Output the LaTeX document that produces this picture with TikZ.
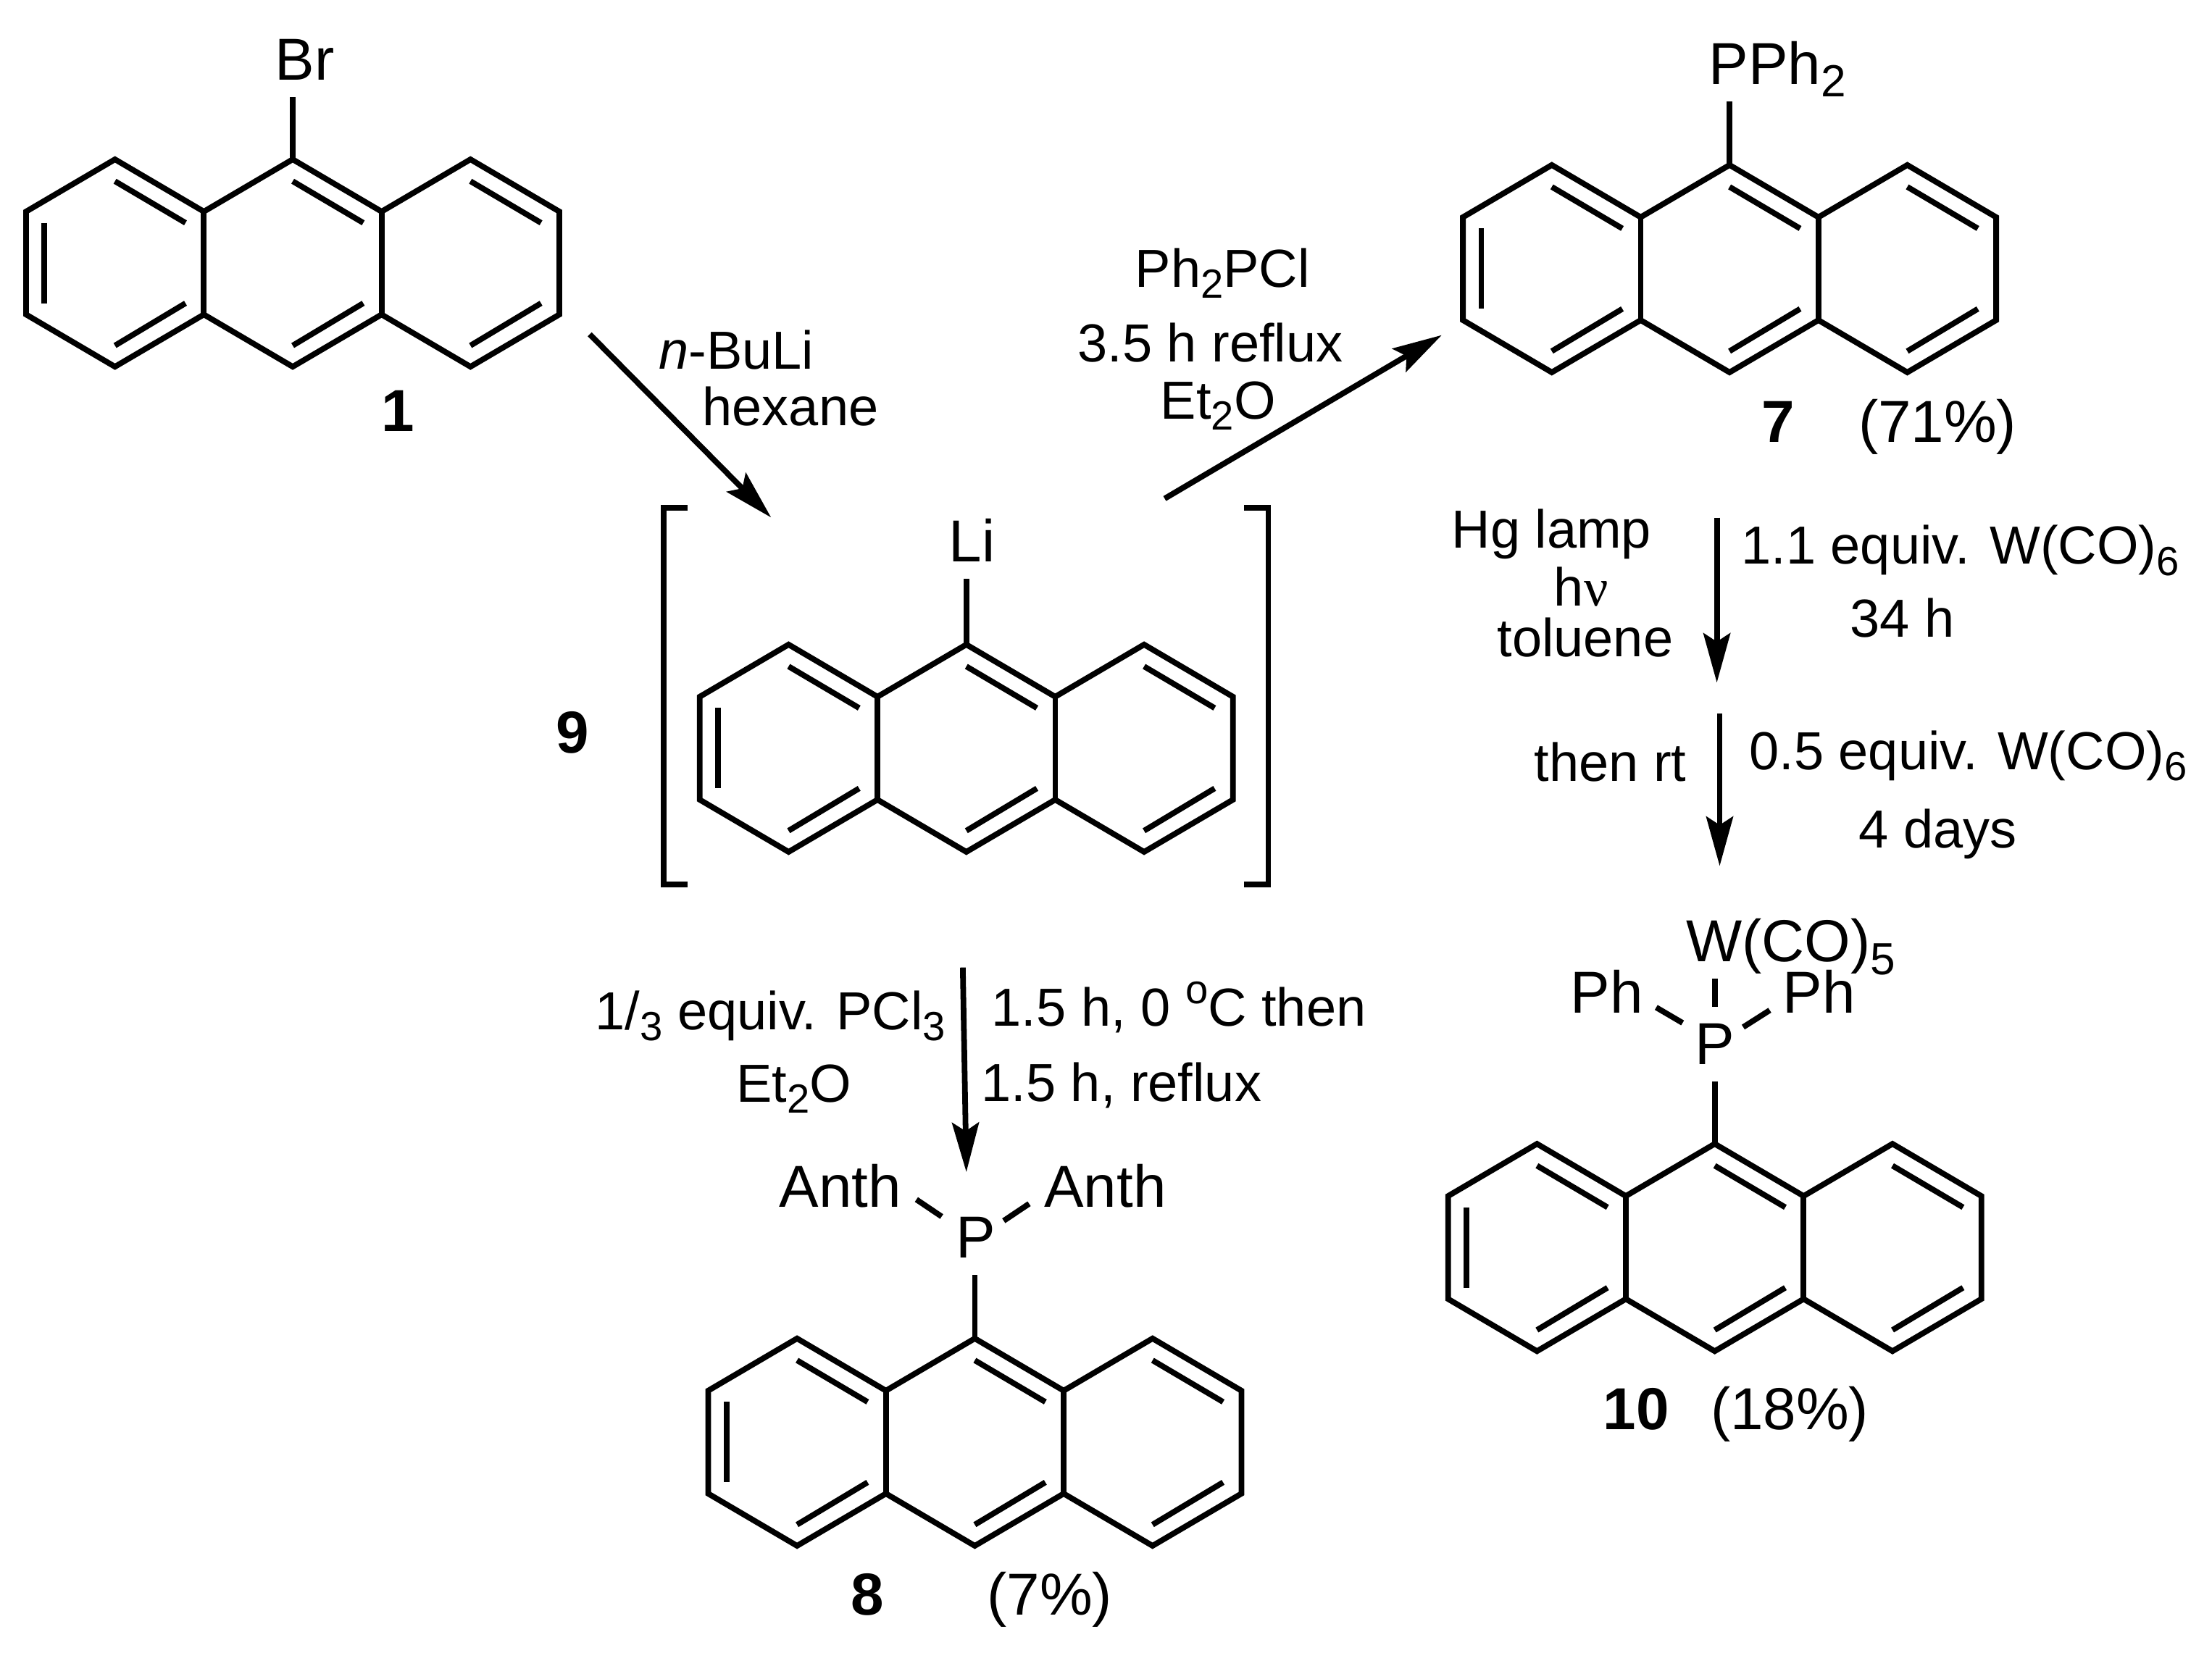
\documentclass[tikz,border=0pt]{standalone}
\usepackage{fontspec}
\setmainfont{Liberation Sans}
\newfontfamily\nufont{Liberation Serif}
\usetikzlibrary{arrows.meta, positioning}
\newcommand{\lowr}[1]{\raisebox{-.21em}{\scalebox{.76}{#1}}}
\newcommand{\upr}[1]{\raisebox{.41em}{\scalebox{.76}{#1}}}
\tikzstyle{scheme}=[x=.5pt, y=-.5pt, line width=2pt, >={Stealth[length=17.5pt,width=9.5pt,inset=3pt]}]
\tikzstyle{atom}=[font=\fontsize{21}{22}\selectfont, inner sep=5pt, text depth=0pt, anchor=base]
\tikzstyle{cond}=[font=\fontsize{19}{21}\selectfont, inner sep=0pt, anchor=base]
\tikzstyle{condw}=[cond, anchor=base west]
\tikzstyle{yield}=[font=\fontsize{21}{22}\selectfont, inner sep=0pt, anchor=base]
\tikzstyle{num}=[yield, font=\fontsize{21}{22}\selectfont\bfseries]
\tikzset{anthracene/.pic={
  \coordinate (-top) at (0,0);
  \draw (0,0) -- (63,37) -- (126,0) -- (189,37) -- (189,110) -- (126,147) -- (63,110) -- (0,147)
     -- (-63,110) -- (-126,147) -- (-189,110) -- (-189,37) -- (-126,0) -- (-63,37) -- cycle;
  \draw (-63,37) -- (-63,110) (63,37) -- (63,110);
  \draw (-126,15.5) -- (-76,45) (0,15.5) -- (50,45) (126,15.5) -- (176,45);
  \draw (-126,132) -- (-76,102) (0,132) -- (50,102) (126,132) -- (176,102);
  \draw (-176,45) -- (-176,102);
}}

\begin{document}
\begin{tikzpicture}[scheme]
  \useasboundingbox (0,0) rectangle (1568,1172);

  \pic (r1)  at (207.5,113) {anthracene};
  \pic (r7)  at (1226,117)  {anthracene};
  \pic (r9)  at (685,457)   {anthracene};
  \pic (r8)  at (691,949)   {anthracene};
  \pic (r10) at (1215.5,811) {anthracene};

  % atoms on the rings
  \node[atom] (Br)   at (216,57)    {Br};
  \node[atom] (Li)   at (689,398.5) {Li};
  \node[atom] (PPh)  at (1260,60)   {PPh\lowr{2}};
  \node[atom] (P8)   at (691.5,892) {P};
  \node[atom] (AnL)  at (595.6,855.7) {Anth};
  \node[atom] (AnR)  at (783.5,855.7) {Anth};
  \node[atom] (P10)  at (1215.7,754.7) {P};
  \node[atom] (W10)  at (1269.5,682) {W(CO)\lowr{5}};
  \node[atom] (PhL)  at (1139,718.5) {Ph};
  \node[atom] (PhR)  at (1289.5,718.5) {Ph};

  \draw (Br.south -| r1-top) -- (r1-top);
  \draw (Li.south -| r9-top) -- (r9-top);
  \draw (PPh.south -| r7-top) -- (r7-top);
  \draw (P8.south -| r8-top) -- (r8-top);
  \draw (P10.south -| r10-top) -- (r10-top);
  \draw (W10.south -| P10.north) -- (P10.north);
  \draw ([shift={(54,10)}]AnL.center) -- ([shift={(-24,-15)}]P8.center);
  \draw ([shift={(-54,13)}]AnR.center) -- ([shift={(20,-12)}]P8.center);
  \draw ([shift={(35,11)}]PhL.center) -- ([shift={(-23,-15)}]P10.center);
  \draw ([shift={(-35,13)}]PhR.center) -- ([shift={(20,-12)}]P10.center);

  % compound numbers
  \node[num]   (n1)  at (282,306)     {1};
  \node[num]   (n7)  at (1260.6,313.6) {7};
  \node[yield] (y7)  at (1373.4,313.6) {(71\%)};
  \node[num]   (n9)  at (406,534)     {9};
  \node[num]   (n8)  at (615,1145)    {8};
  \node[yield] (y8)  at (744,1145)    {(7\%)};
  \node[num]   (n10) at (1159.8,1013.4) {10};
  \node[yield] (y10) at (1268.6,1013.4) {(18\%)};

  % conditions
  \node[condw] (c1) at (465,261.5) {\textit{n}-BuLi};
  \node[condw] (c2) at (496,301.5) {hexane};
  \node[cond]  (c3) at (866.5,203.4) {Ph\lowr{2}PCl};
  \node[cond]  (c4) at (858,256.5)   {3.5 h reflux};
  \node[cond]  (c5) at (863.5,297)   {Et\lowr{2}O};
  \node[cond]  (c6) at (1099.8,388.6) {Hg lamp};
  \node[cond]  (c7) at (1120.8,429.4) {h{\nufont ν}};
  \node[cond]  (c8) at (1123.7,465.4) {toluene};
  \node[condw] (c9) at (1232.4,400)  {1.1 equiv. W(CO)\lowr{6}};
  \node[cond]  (c10) at (1348.4,451.6) {34 h};
  \node[cond]  (c11) at (1141.5,554) {then rt};
  \node[condw] (c12) at (1238,545.6) {0.5 equiv. W(CO)\lowr{6}};
  \node[cond]  (c13) at (1373.7,601.4) {4 days};
  \node[condw] (c14) at (420,730)    {1/\lowr{3} equiv. PCl\lowr{3}};
  \node[cond]  (c15) at (562.7,781.4) {Et\lowr{2}O};
  \node[condw] (c16) at (701,727.4)  {1.5 h, 0 \upr{o}C then};
  \node[condw] (c17) at (693.7,781)  {1.5 h, reflux};

  % brackets
  \coordinate (blt) at (487.5,360);
  \coordinate (blb) at (487.5,627);
  \coordinate (brt) at (882,360);
  \coordinate (brb) at (882,627);
  \draw (blt) -- ++(-17,0) |- (blb);
  \draw (brt) -- ++(17,0) |- (brb);

  % arrow ends
  \coordinate (a1s) at (418,237);
  \coordinate (a1e) at (546.6,366.9);
  \coordinate (a2s) at (825.6,353.5);
  \coordinate (a2e) at (1022,237.6);
  \coordinate (a3s) at (1217,367);
  \coordinate (a3e) at (1217,484);
  \coordinate (a4s) at (1219,506);
  \coordinate (a4e) at (1219,614);
  \coordinate (a5s) at (682.5,686);
  \coordinate (a5e) at (685,831);

  \path[->]
    (a1s) edge (a1e)
    (a2s) edge (a2e)
    (a3s) edge (a3e)
    (a4s) edge (a4e)
    (a5s) edge (a5e);
\end{tikzpicture}
\end{document}
